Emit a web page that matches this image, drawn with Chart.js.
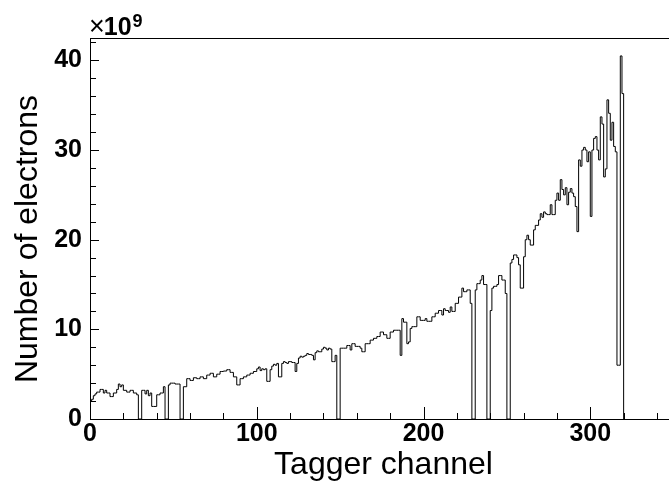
<!DOCTYPE html>
<html>
<head>
<meta charset="utf-8">
<script src="https://cdn.jsdelivr.net/npm/chart.js@4/dist/chart.umd.min.js"></script>
<style>
html,body{margin:0;padding:0;background:#fff;overflow:hidden;}
</style>
</head>
<body>
<canvas id="chart" width="690" height="482"></canvas>
<script>

/* -------- DATA -------- */

// electrons per tagger channel, in units of 10^9, channel 0 .. 319
const electrons = [
2.0,2.2,2.6,2.8,3.0,3.0,3.3,3.3,2.9,3.2,
2.9,2.9,2.5,2.5,2.9,2.9,3.3,3.9,3.6,3.8,
3.2,3.2,3.0,3.0,3.2,3.2,2.9,2.9,2.7,0,
0,3.2,3.2,2.8,3.2,2.6,2.9,1.4,1.4,1.4,
2.7,2.7,2.9,2.9,3.6,0,0,3.8,4.0,4.0,
4.0,3.9,3.9,3.9,0,0,3.6,3.6,4.5,4.5,
4.3,4.3,4.6,4.6,4.5,4.5,4.7,4.7,4.5,4.5,
4.9,4.9,5.1,5.1,4.7,4.7,5.0,5.0,5.3,5.3,
5.35,5.35,5.5,5.5,5.2,5.2,4.7,4.7,3.8,3.8,
4.5,4.5,4.7,4.7,4.9,4.9,5.1,5.1,5.3,5.3,
5.6,5.8,5.4,5.6,5.5,5.6,4.2,4.2,5.5,5.9,
6.1,6.0,6.2,4.7,4.7,6.2,6.4,6.3,6.2,6.4,
6.4,6.3,6.3,5.3,6.2,6.8,7.0,6.9,7.0,7.1,
7.3,7.2,7.2,7.1,6.6,7.4,7.6,7.5,7.5,7.8,
8.0,7.9,7.7,7.9,7.8,6.4,6.4,7.1,0,0,
7.9,7.9,7.9,7.9,8.2,8.2,7.7,8.4,8.4,8.1,
8.1,8.1,7.9,7.5,7.5,8.4,8.4,8.4,8.8,8.8,
9.0,9.0,9.2,9.2,9.7,9.7,9.4,9.4,9.0,9.0,
9.7,9.7,9.9,9.9,9.9,9.9,7.1,11.2,10.8,10.8,
8.4,8.6,10.1,10.3,10.3,10.3,11.4,11.4,11.0,11.0,
11.0,11.2,10.9,10.9,10.9,11.4,11.4,11.8,11.8,12.1,
12.1,11.6,12.3,12.1,12.1,11.9,12.5,12.0,12.0,12.9,
12.9,13.6,13.6,14.6,14.2,14.2,14.4,14.4,12.9,0,
0,14.4,15.1,15.1,15.5,16.0,15.0,15.0,0,0,
12.1,14.6,14.8,14.8,15.0,16.0,16.0,15.5,15.5,14.0,
0,0,17.4,17.8,18.3,18.3,18.0,17.2,14.6,14.6,
18.1,20.0,20.5,20.0,19.4,19.4,21.1,21.6,21.6,22.2,
22.9,22.5,23.1,22.9,22.8,22.8,23.9,22.8,22.8,24.4,
25.2,24.4,26.7,25.6,25.0,25.8,23.9,25.3,25.7,25.2,
24.8,23.7,20.9,28.9,28.2,30.0,30.3,30.0,28.7,29.8,
22.6,30.0,31.3,31.5,30.0,28.9,33.7,32.9,27.0,27.9,
35.6,34.1,31.1,33.1,30.4,29.8,6.0,6.0,40.5,36.3
];

const xRange = [0, 352];
const yRange = [0, 42.5];
const xLabels = [0, 100, 200, 300];
const yLabels = [0, 10, 20, 30, 40];
const xTitle = "Tagger channel";
const yTitle = "Number of electrons";
const yExponent = "9";

const helv = "Liberation Sans, Arial, Helvetica, sans-serif";


/* -------- HISTOGRAM POINTS (bin low edges) -------- */

const points = electrons.map((v,i) => ({x:i, y:v}));
points.push({x:electrons.length, y:0});


/* -------- ROOT STYLE FRAME, INWARD TICKS, TITLES -------- */

const rootFrame = {
id:"rootFrame",
afterDraw(chart){

const ctx = chart.ctx;
const a = chart.chartArea;
const xs = chart.scales.x;
const ys = chart.scales.y;

ctx.save();
ctx.strokeStyle = "#000";
ctx.lineWidth = 1;

ctx.strokeRect(a.left+0.5, a.top+0.5, a.right-a.left, a.bottom-a.top);

ctx.beginPath();
for(let v=xRange[0]; v<=xRange[1]; v+=20){
const px = Math.round(xs.getPixelForValue(v))+0.5;
const len = v%100===0 ? 12 : 6;
ctx.moveTo(px, a.bottom);
ctx.lineTo(px, a.bottom-len);
}
for(let v=0; v<=yRange[1]; v+=2){
const py = Math.round(ys.getPixelForValue(v))+0.5;
const len = v%10===0 ? 9 : 6;
ctx.moveTo(a.left, py);
ctx.lineTo(a.left+len, py);
}
ctx.stroke();

ctx.fillStyle = "#000";
ctx.textBaseline = "alphabetic";

// axis titles
ctx.font = "32px " + helv;
ctx.textAlign = "center";
ctx.fillText(xTitle, (a.left+a.right)/2, 474);

ctx.save();
ctx.translate(37, 239);
ctx.rotate(-Math.PI/2);
ctx.fillText(yTitle, 0, 0);
ctx.restore();

// x10^9 above the y axis
ctx.textAlign = "left";
let x = a.left - 1;
const base = a.top - 3;
ctx.font = "27px " + helv;
ctx.fillText("\u00d7", x, base);
x += ctx.measureText("\u00d7").width - 1;
ctx.font = "bold 25px " + helv;
ctx.fillText("10", x, base);
x += ctx.measureText("10").width + 1;
ctx.font = "bold 18px " + helv;
ctx.fillText(yExponent, x, base - 8);

ctx.restore();

}
};


/* -------- CHART -------- */

new Chart(document.getElementById("chart"), {

type:"line",

data:{
datasets:[{
label:"electrons",
data:points,
stepped:true,
borderColor:"#000",
borderWidth:1,
pointRadius:0,
fill:false,
tension:0
}]
},

options:{
responsive:false,
animation:false,
layout:{padding:{top:38, right:13, left:0, bottom:0}},
plugins:{legend:{display:false}, tooltip:{enabled:false}},
scales:{
x:{
type:"linear",
min:xRange[0],
max:xRange[1],
grid:{display:false, drawTicks:false},
border:{display:false},
afterFit(s){ s.height = 63; },
afterBuildTicks(s){ s.ticks = xLabels.map(v => ({value:v})); },
ticks:{
autoSkip:false,
maxRotation:0,
padding:0,
color:"#000",
font:{family:helv, size:25, weight:"bold"}
}
},
y:{
min:yRange[0],
max:yRange[1],
grid:{display:false, drawTicks:false},
border:{display:false},
afterFit(s){ s.width = 90; },
afterBuildTicks(s){ s.ticks = yLabels.map(v => ({value:v})); },
ticks:{
padding:8,
color:"#000",
font:{family:helv, size:25, weight:"bold"}
}
}
}
},

plugins:[rootFrame]

});

</script>
</body>
</html>
